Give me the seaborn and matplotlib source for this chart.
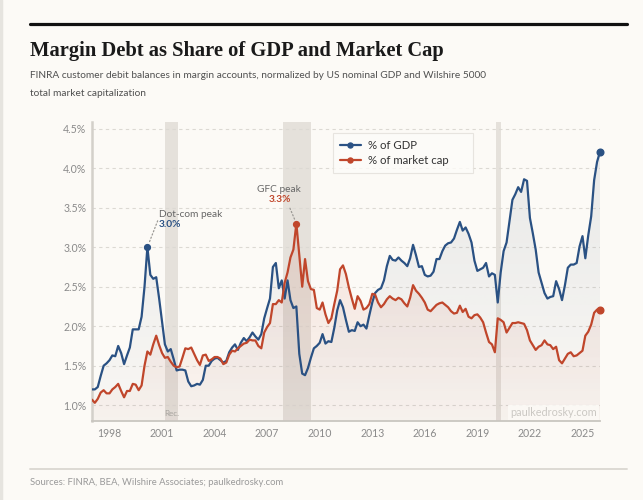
import numpy as np
import pandas as pd
import matplotlib
matplotlib.use("Agg")
import matplotlib.pyplot as plt
import matplotlib.dates as mdates
import matplotlib.colors as mcolors
from matplotlib.lines import Line2D
import seaborn as sns

# ---------------- data (bimonthly) ----------------
dates = pd.date_range("1997-01-01", periods=175, freq="2MS")

gdp_pct = [
    1.20, 1.20, 1.23, 1.37, 1.50, 1.53, 1.57, 1.63, 1.62, 1.75,
    1.66, 1.52, 1.63, 1.73, 1.96, 1.96, 1.96, 2.12, 2.50, 3.00,
    2.65, 2.60, 2.62, 2.35, 2.05, 1.77, 1.68, 1.71, 1.58, 1.44,
    1.45, 1.45, 1.44, 1.30, 1.24, 1.25, 1.27, 1.26, 1.32, 1.50,
    1.50, 1.56, 1.59, 1.60, 1.57, 1.54, 1.56, 1.67, 1.73, 1.77,
    1.70, 1.79, 1.85, 1.81, 1.86, 1.92, 1.87, 1.83, 1.90, 2.10,
    2.23, 2.35, 2.75, 2.80, 2.48, 2.58, 2.35, 2.58, 2.33, 2.23,
    2.25, 1.65, 1.40, 1.38, 1.47, 1.60, 1.72, 1.75, 1.79, 1.90,
    1.78, 1.81, 1.80, 1.98, 2.20, 2.33, 2.24, 2.08, 1.93, 1.95,
    1.94, 2.05, 2.00, 2.02, 1.97, 2.14, 2.30, 2.42, 2.46, 2.48,
    2.58, 2.76, 2.89, 2.84, 2.83, 2.87, 2.83, 2.80, 2.76, 2.86,
    3.03, 2.90, 2.75, 2.76, 2.65, 2.63, 2.64, 2.69, 2.85, 2.85,
    2.95, 3.02, 3.05, 3.06, 3.11, 3.22, 3.32, 3.21, 3.25, 3.17,
    3.06, 2.83, 2.70, 2.72, 2.74, 2.80, 2.63, 2.67, 2.65, 2.30,
    2.68, 2.95, 3.06, 3.33, 3.60, 3.67, 3.76, 3.70, 3.86, 3.84,
    3.37, 3.18, 2.97, 2.68, 2.55, 2.42, 2.35, 2.37, 2.38, 2.57,
    2.47, 2.33, 2.52, 2.74, 2.78, 2.78, 2.80, 3.01, 3.14, 2.86,
    3.15, 3.39, 3.85, 4.08, 4.21,
]

mcap_pct = [
    1.07, 1.03, 1.08, 1.16, 1.19, 1.15, 1.15, 1.20, 1.23, 1.27,
    1.18, 1.10, 1.18, 1.18, 1.27, 1.26, 1.19, 1.25, 1.50, 1.68,
    1.64, 1.77, 1.88, 1.76, 1.66, 1.60, 1.61, 1.55, 1.50, 1.48,
    1.49, 1.60, 1.72, 1.71, 1.73, 1.65, 1.57, 1.51, 1.63, 1.64,
    1.56, 1.58, 1.61, 1.61, 1.59, 1.52, 1.54, 1.64, 1.69, 1.68,
    1.72, 1.75, 1.78, 1.79, 1.83, 1.82, 1.82, 1.75, 1.72, 1.92,
    1.99, 2.04, 2.28, 2.28, 2.33, 2.30, 2.55, 2.68, 2.87, 2.97,
    3.30, 2.90, 2.50, 2.85, 2.57, 2.47, 2.46, 2.23, 2.21, 2.30,
    2.15, 2.04, 2.10, 2.28, 2.45, 2.72, 2.77, 2.66, 2.49, 2.35,
    2.22, 2.38, 2.32, 2.21, 2.23, 2.28, 2.41, 2.40, 2.30, 2.24,
    2.28, 2.34, 2.38, 2.35, 2.33, 2.36, 2.34, 2.29, 2.25, 2.36,
    2.52, 2.45, 2.41, 2.36, 2.30, 2.21, 2.19, 2.23, 2.27, 2.29,
    2.30, 2.27, 2.24, 2.19, 2.16, 2.17, 2.26, 2.18, 2.22, 2.12,
    2.10, 2.14, 2.15, 2.11, 2.05, 1.92, 1.80, 1.77, 1.67, 2.10,
    2.08, 2.05, 1.92, 1.98, 2.04, 2.04, 2.05, 2.04, 2.03, 1.95,
    1.82, 1.76, 1.70, 1.74, 1.76, 1.82, 1.77, 1.76, 1.71, 1.74,
    1.57, 1.53, 1.59, 1.65, 1.67, 1.62, 1.63, 1.66, 1.69, 1.88,
    1.93, 2.02, 2.17, 2.21, 2.20,
]

series_names = ["% of GDP", "% of market cap"]
recessions = [("2001-03-01", "2001-11-30"),
              ("2007-12-01", "2009-06-30"),
              ("2020-02-01", "2020-04-30")]
year_ticks = [1998, 2001, 2004, 2007, 2010, 2013, 2016, 2019, 2022, 2025]
y_ticks = [1.0, 1.5, 2.0, 2.5, 3.0, 3.5, 4.0, 4.5]

# ---------------- style ----------------
BG = "#fcfaf6"
BLUE = "#2a5183"
RED = "#c0462b"
GRID = "#dcd9d3"
TICK = "#8a8a8a"

sns.set_theme(style="white")
plt.rcParams["font.family"] = ["Lato", "DejaVu Sans"]

df = pd.DataFrame({
    "date": list(dates) * 2,
    "value": gdp_pct + mcap_pct,
    "series": [series_names[0]] * len(dates) + [series_names[1]] * len(dates),
})

fig = plt.figure(figsize=(6.43, 5.0), dpi=100, facecolor=BG)
ax = fig.add_axes([92 / 643, 1 - 421 / 500, 508 / 643, 299 / 500])
ax.set_facecolor(BG)

YMIN, YMAX = 0.80, 4.585
x0, x1 = dates[0], dates[-1]
xn0, xn1 = mdates.date2num(x0), mdates.date2num(x1)

# recession bands
for a, b in recessions:
    ax.axvspan(pd.Timestamp(a), pd.Timestamp(b), color="#e5e1db", lw=0, zorder=0.5)

# grid
for yv in y_ticks:
    ax.axhline(yv, color=GRID, lw=0.8, ls=(0, (3, 3)), zorder=0.6)


def gradient_fill(values, color, a_top, a_bot, zorder):
    poly = ax.fill_between(dates, values, YMIN, facecolor="none", edgecolor="none")
    path = poly.get_paths()[0]
    rgb = mcolors.to_rgb(color)
    grad = np.zeros((100, 1, 4))
    grad[:, :, :3] = rgb
    grad[:, 0, 3] = np.linspace(a_bot, a_top, 100)
    im = ax.imshow(grad, aspect="auto", origin="lower",
                   extent=[xn0, xn1, YMIN, max(values)], zorder=zorder)
    im.set_clip_path(path, transform=ax.transData)


gradient_fill(gdp_pct, "#5a6b82", 0.12, 0.02, 1.0)
gradient_fill(mcap_pct, RED, 0.12, 0.03, 1.1)

sns.lineplot(data=df, x="date", y="value", hue="series",
             palette={series_names[0]: BLUE, series_names[1]: RED},
             linewidth=1.6, ax=ax, legend=False, zorder=3)

# end markers
ax.plot([dates[-1]], [gdp_pct[-1]], "o", color=BLUE, ms=4.8, zorder=5, clip_on=False)
ax.plot([dates[-1]], [mcap_pct[-1]], "o", color=RED, ms=4.8, zorder=5, clip_on=False)

# peak annotations
i_dc = int(np.argmax(gdp_pct[:40]))
i_gfc = int(np.argmax(mcap_pct))
ax.plot([dates[i_dc]], [gdp_pct[i_dc]], "o", color=BLUE, ms=4.2, zorder=5)
ax.plot([dates[i_gfc]], [mcap_pct[i_gfc]], "o", color=RED, ms=4.2, zorder=5)

lead = dict(arrowstyle="-", ls=(0, (1, 1.8)), color="#9a9894", lw=0.9,
            shrinkA=0, shrinkB=0)
ax.annotate("", xy=(dates[i_dc], gdp_pct[i_dc]), xycoords="data",
            xytext=(7.4, 19.0), textcoords="offset points",
            arrowprops=dict(lead, shrinkB=3))
ax.annotate("Dot-com peak", xy=(dates[i_dc], gdp_pct[i_dc]), xytext=(8.2, 23.6),
            textcoords="offset points", ha="left", va="center",
            fontsize=7.3, color="#666666")
ax.annotate(f"{gdp_pct[i_dc]:.1f}%", xy=(dates[i_dc], gdp_pct[i_dc]), xytext=(8.2, 16.2),
            textcoords="offset points", ha="left", va="center",
            fontsize=7.3, color=BLUE, fontweight="bold")

ax.annotate("", xy=(dates[i_gfc], mcap_pct[i_gfc]), xycoords="data",
            xytext=(-4.6, 11.0), textcoords="offset points",
            arrowprops=dict(lead, shrinkB=3))
ax.annotate("GFC peak", xy=(dates[i_gfc], mcap_pct[i_gfc]), xytext=(-12.2, 24.5),
            textcoords="offset points", ha="center", va="center",
            fontsize=7.3, color="#666666")
ax.annotate(f"{mcap_pct[i_gfc]:.1f}%", xy=(dates[i_gfc], mcap_pct[i_gfc]), xytext=(-12.2, 17.3),
            textcoords="offset points", ha="center", va="center",
            fontsize=7.3, color=RED, fontweight="bold")

# "Rec." label and watermark
trans = ax.get_xaxis_transform()
ax.text(pd.Timestamp("2001-08-01"), 0.025, "Rec.", transform=trans,
        ha="center", va="center", fontsize=5.8, color="#a5a29d", zorder=4)
ax.text(0.994, 0.027, "paulkedrosky.com", transform=ax.transAxes,
        ha="right", va="center", fontsize=7.8, color="#cbc8c3", zorder=4,
        bbox=dict(facecolor=BG, edgecolor="none", pad=1.5, alpha=0.85))

# axes
ax.set_xlim(x0, x1)
ax.set_ylim(YMIN, YMAX)
ax.set_xticks([pd.Timestamp(f"{y}-01-01") for y in year_ticks])
ax.set_xticklabels([str(y) for y in year_ticks])
ax.set_yticks(y_ticks)
ax.set_yticklabels([f"{v:.1f}%" for v in y_ticks])
ax.tick_params(axis="both", length=0, labelsize=7.6, colors=TICK)
ax.tick_params(axis="y", pad=4)
ax.tick_params(axis="x", pad=5)
ax.set_xlabel("")
ax.set_ylabel("")
for s in ["top", "right"]:
    ax.spines[s].set_visible(False)
ax.spines["left"].set_color("#d3d0ca")
ax.spines["left"].set_linewidth(1.8)
ax.spines["bottom"].set_color("#c9c6c0")
ax.spines["bottom"].set_linewidth(1.3)
ax.grid(False)

# legend
handles = [Line2D([0], [0], color=BLUE, lw=1.6, marker="o", ms=3.6),
           Line2D([0], [0], color=RED, lw=1.6, marker="o", ms=3.6)]
leg = ax.legend(handles, series_names, loc="upper left",
                bbox_to_anchor=(0.474, 0.963 - 0.134, 0.2756, 0.134),
                mode="expand", borderaxespad=0, fontsize=8.2, numpoints=1,
                handlelength=1.9, handletextpad=0.6, labelspacing=0.4,
                frameon=True, fancybox=False, borderpad=0.6)
leg.get_frame().set_facecolor("#fdfcf9")
leg.get_frame().set_edgecolor("#e2dfd9")
leg.get_frame().set_linewidth(0.8)
for t in leg.get_texts():
    t.set_color("#333333")
leg.set_zorder(6)

# ---------------- figure-level text ----------------
fig.add_artist(Line2D([30 / 643, 627 / 643], [1 - 24 / 500, 1 - 24 / 500],
                      color="#111111", lw=2.3, transform=fig.transFigure))
fig.add_artist(Line2D([30 / 643, 627 / 643], [1 - 469 / 500, 1 - 469 / 500],
                      color="#dddad4", lw=1.4, transform=fig.transFigure))
fig.add_artist(Line2D([1 / 643, 1 / 643], [0, 1], color="#e6e4df", lw=2.5,
                      transform=fig.transFigure))

fig.text(30 / 643, 1 - 56 / 500, "Margin Debt as Share of GDP and Market Cap",
         ha="left", va="baseline", fontsize=14.8, fontweight="bold",
         family=["Liberation Serif", "DejaVu Serif"], color="#1a1a1a")
fig.text(30 / 643, 1 - 78.5 / 500,
         "FINRA customer debit balances in margin accounts, normalized by US nominal GDP and Wilshire 5000",
         ha="left", va="baseline", fontsize=7.25, color="#505050")
fig.text(30 / 643, 1 - 96 / 500, "total market capitalization",
         ha="left", va="baseline", fontsize=7.25, color="#505050")
fig.text(30 / 643, 1 - 485 / 500, "Sources: FINRA, BEA, Wilshire Associates; paulkedrosky.com",
         ha="left", va="baseline", fontsize=6.8, color="#9a9a9a")

fig.savefig("out.png", dpi=100, facecolor=BG)
